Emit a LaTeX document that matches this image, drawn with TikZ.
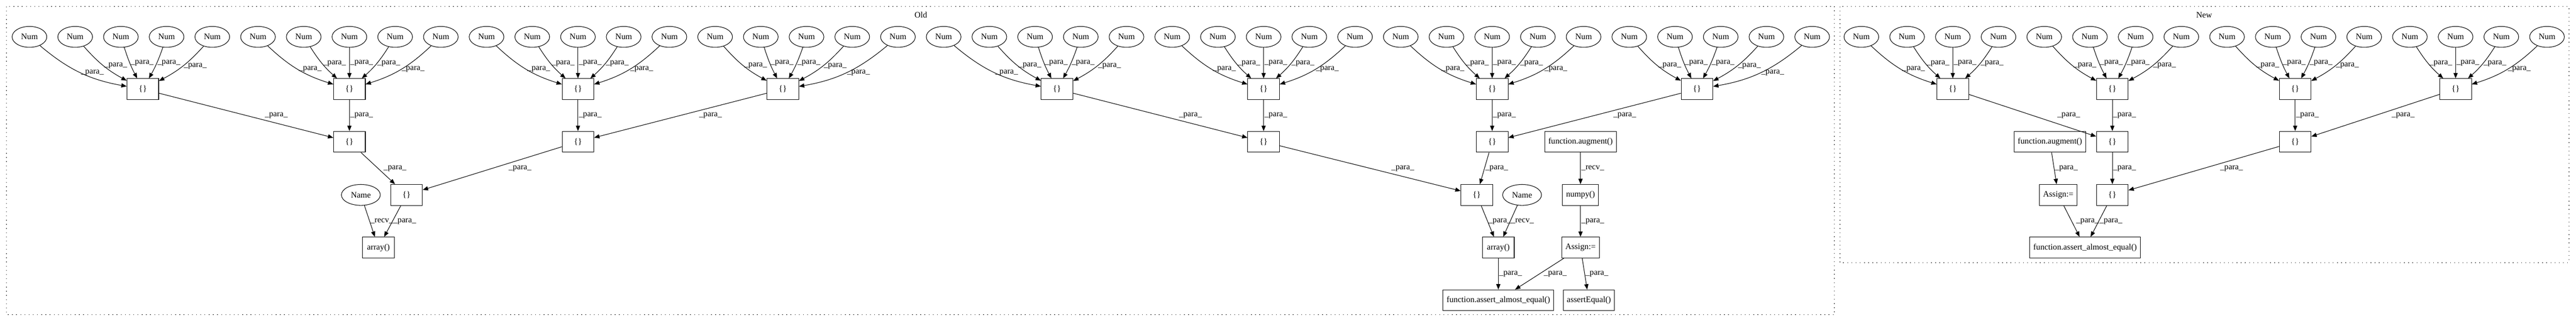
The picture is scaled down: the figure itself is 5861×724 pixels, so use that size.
\documentclass[tikz,border=0pt]{standalone}
\usepackage{fontspec}
\setmainfont{Liberation Serif}
\usetikzlibrary{arrows.meta,%
                shapes}

\begin{document}
\begin{tikzpicture}[x=0.735pt,y=-0.735pt,font=\fontsize{14}{16}\selectfont,
  num/.style={draw,ellipse,line width=0.9pt,minimum width=58pt,minimum height=35pt,inner sep=0pt},
  blk/.style={draw,rectangle,line width=0.9pt,minimum width=53pt,minimum height=35pt,inner xsep=6pt,inner ysep=0pt},
  para/.style={-{Triangle[length=9pt,width=7pt]},line width=0.9pt},
  lbl/.style={inner sep=1pt,anchor=west},
  clu/.style={line width=1pt,dash pattern=on 1.2pt off 5.8pt}]
\useasboundingbox (0,0) rectangle (5861,724);

\draw[clu] (15,15) rectangle (4174,717);
\node (old) at (2095,34) {Old};
\draw[clu] (4186,15) rectangle (5845,598);
\node (new) at (5015,34) {New};

\node[num] (a1) at (67,84) {Num};
\node[num] (a2) at (171,84) {Num};
\node[num] (a3) at (275,84) {Num};
\node[num] (a4) at (379,84) {Num};
\node[num] (a5) at (483,84) {Num};
\node[num] (a6) at (587,84) {Num};
\node[num] (a7) at (691,84) {Num};
\node[num] (a8) at (795,84) {Num};
\node[num] (a9) at (899,84) {Num};
\node[num] (a10) at (1003,84) {Num};
\node[num] (a11) at (1107,84) {Num};
\node[num] (a12) at (1211,84) {Num};
\node[num] (a13) at (1315,84) {Num};
\node[num] (a14) at (1419,84) {Num};
\node[num] (a15) at (1523,84) {Num};
\node[num] (a16) at (1627,84) {Num};
\node[num] (a17) at (1731,84) {Num};
\node[num] (a18) at (1835,84) {Num};
\node[num] (a19) at (1939,84) {Num};
\node[num] (a20) at (2043,84) {Num};
\node[num] (a21) at (2147,84) {Num};
\node[num] (a22) at (2251,84) {Num};
\node[num] (a23) at (2355,84) {Num};
\node[num] (a24) at (2459,84) {Num};
\node[num] (a25) at (2563,84) {Num};
\node[num] (a26) at (2667,84) {Num};
\node[num] (a27) at (2771,84) {Num};
\node[num] (a28) at (2875,84) {Num};
\node[num] (a29) at (2979,84) {Num};
\node[num] (a30) at (3083,84) {Num};
\node[num] (a31) at (3187,84) {Num};
\node[num] (a32) at (3291,84) {Num};
\node[num] (a33) at (3395,84) {Num};
\node[num] (a34) at (3499,84) {Num};
\node[num] (a35) at (3603,84) {Num};
\node[num] (a36) at (3707,84) {Num};
\node[num] (a37) at (3811,84) {Num};
\node[num] (a38) at (3915,84) {Num};
\node[num] (a39) at (4019,84) {Num};
\node[num] (a40) at (4123,84) {Num};

\node[blk] (ag1) at (325,203) {\{\}};
\node[blk] (ag2) at (795,203) {\{\}};
\node[blk] (ag3) at (1315,203) {\{\}};
\node[blk] (ag4) at (1781,203) {\{\}};
\node[blk] (ag5) at (2405,203) {\{\}};
\node[blk] (ag6) at (2875,203) {\{\}};
\node[blk] (ag7) at (3395,203) {\{\}};
\node[blk] (ag8) at (3861,203) {\{\}};

\node[blk] (ah1) at (795,323) {\{\}};
\node[blk] (ah2) at (1315,323) {\{\}};
\node[blk] (ah3) at (2875,323) {\{\}};
\node[blk] (ah4) at (3395,323) {\{\}};
\node[blk] (aaug) at (3596,323) {function.augment()};

\node[num,minimum width=65pt] (an1) at (821,444) {Name};
\node[blk] (ai1) at (925,444) {\{\}};
\node[blk] (ai2) at (3360,444) {\{\}};
\node[num,minimum width=65pt] (an2) at (3463,444) {Name};
\node[blk] (anp) at (3596,444) {numpy()};

\node[blk] (ar1) at (861,564) {array()};
\node[blk] (ar2) at (3409,564) {array()};
\node[blk] (aas) at (3596,564) {Assign:=};

\node[blk] (aae) at (3409,684) {function.assert\_almost\_equal()};
\node[blk] (aeq) at (3615,684) {assertEqual()};

\draw[para] (a1) to[bend right=15] node[lbl]{\_para\_} (ag1);
\draw[para] (a2) to[bend right=10] node[lbl]{\_para\_} (ag1);
\draw[para] (a3) to[bend right=5] node[lbl]{\_para\_} (ag1);
\draw[para] (a4) to[bend left=5] node[lbl]{\_para\_} (ag1);
\draw[para] (a5) to[bend left=10] node[lbl]{\_para\_} (ag1);
\draw[para] (a6) to[bend right=13] node[lbl]{\_para\_} (ag2);
\draw[para] (a7) to[bend right=8] node[lbl]{\_para\_} (ag2);
\draw[para] (a8) -- node[lbl]{\_para\_} (ag2);
\draw[para] (a9) to[bend left=8] node[lbl]{\_para\_} (ag2);
\draw[para] (a10) to[bend left=13] node[lbl]{\_para\_} (ag2);
\draw[para] (a11) to[bend right=13] node[lbl]{\_para\_} (ag3);
\draw[para] (a12) to[bend right=8] node[lbl]{\_para\_} (ag3);
\draw[para] (a13) -- node[lbl]{\_para\_} (ag3);
\draw[para] (a14) to[bend left=8] node[lbl]{\_para\_} (ag3);
\draw[para] (a15) to[bend left=13] node[lbl]{\_para\_} (ag3);
\draw[para] (a16) to[bend right=10] node[lbl]{\_para\_} (ag4);
\draw[para] (a17) to[bend right=5] node[lbl]{\_para\_} (ag4);
\draw[para] (a18) to[bend left=5] node[lbl]{\_para\_} (ag4);
\draw[para] (a19) to[bend left=10] node[lbl]{\_para\_} (ag4);
\draw[para] (a20) to[bend left=15] node[lbl]{\_para\_} (ag4);
\draw[para] (a21) to[bend right=15] node[lbl]{\_para\_} (ag5);
\draw[para] (a22) to[bend right=10] node[lbl]{\_para\_} (ag5);
\draw[para] (a23) to[bend right=5] node[lbl]{\_para\_} (ag5);
\draw[para] (a24) to[bend left=5] node[lbl]{\_para\_} (ag5);
\draw[para] (a25) to[bend left=10] node[lbl]{\_para\_} (ag5);
\draw[para] (a26) to[bend right=13] node[lbl]{\_para\_} (ag6);
\draw[para] (a27) to[bend right=8] node[lbl]{\_para\_} (ag6);
\draw[para] (a28) -- node[lbl]{\_para\_} (ag6);
\draw[para] (a29) to[bend left=8] node[lbl]{\_para\_} (ag6);
\draw[para] (a30) to[bend left=13] node[lbl]{\_para\_} (ag6);
\draw[para] (a31) to[bend right=13] node[lbl]{\_para\_} (ag7);
\draw[para] (a32) to[bend right=8] node[lbl]{\_para\_} (ag7);
\draw[para] (a33) -- node[lbl]{\_para\_} (ag7);
\draw[para] (a34) to[bend left=8] node[lbl]{\_para\_} (ag7);
\draw[para] (a35) to[bend left=13] node[lbl]{\_para\_} (ag7);
\draw[para] (a36) to[bend right=10] node[lbl]{\_para\_} (ag8);
\draw[para] (a37) to[bend right=5] node[lbl]{\_para\_} (ag8);
\draw[para] (a38) to[bend left=5] node[lbl]{\_para\_} (ag8);
\draw[para] (a39) to[bend left=10] node[lbl]{\_para\_} (ag8);
\draw[para] (a40) to[bend left=15] node[lbl]{\_para\_} (ag8);

\draw[para] (ag1) -- node[lbl,right=30pt]{\_para\_} (ah1);
\draw[para] (ag2) -- node[lbl]{\_para\_} (ah1);
\draw[para] (ag3) -- node[lbl]{\_para\_} (ah2);
\draw[para] (ag4) -- node[lbl,right=30pt]{\_para\_} (ah2);
\draw[para] (ag5) -- node[lbl,right=30pt]{\_para\_} (ah3);
\draw[para] (ag6) -- node[lbl]{\_para\_} (ah3);
\draw[para] (ag7) -- node[lbl]{\_para\_} (ah4);
\draw[para] (ag8) -- node[lbl,right=30pt]{\_para\_} (ah4);

\draw[para] (ah1) -- node[lbl,right=8pt]{\_para\_} (ai1);
\draw[para] (ah2) -- node[lbl,right=26pt]{\_para\_} (ai1);
\draw[para] (ah3) -- node[lbl,right=34pt]{\_para\_} (ai2);
\draw[para] (ah4) -- node[lbl]{\_para\_} (ai2);
\draw[para] (aaug) -- node[lbl]{\_recv\_} (anp);

\draw[para] (an1) -- node[lbl]{\_recv\_} (ar1);
\draw[para] (ai1) -- node[lbl]{\_para\_} (ar1);
\draw[para] (ai2) -- node[lbl]{\_para\_} (ar2);
\draw[para] (an2) -- node[lbl]{\_recv\_} (ar2);
\draw[para] (anp) -- node[lbl]{\_para\_} (aas);

\draw[para] (ar2) -- node[lbl]{\_para\_} (aae);
\draw[para] (aas) -- node[lbl,right=6pt]{\_para\_} (aae);
\draw[para] (aas) -- node[lbl]{\_para\_} (aeq);

\node[num] (b1) at (4235,84) {Num};
\node[num] (b2) at (4339,84) {Num};
\node[num] (b3) at (4443,84) {Num};
\node[num] (b4) at (4547,84) {Num};
\node[num] (b5) at (4651,84) {Num};
\node[num] (b6) at (4755,84) {Num};
\node[num] (b7) at (4859,84) {Num};
\node[num] (b8) at (4963,84) {Num};
\node[num] (b9) at (5067,84) {Num};
\node[num] (b10) at (5171,84) {Num};
\node[num] (b11) at (5275,84) {Num};
\node[num] (b12) at (5379,84) {Num};
\node[num] (b13) at (5483,84) {Num};
\node[num] (b14) at (5587,84) {Num};
\node[num] (b15) at (5691,84) {Num};
\node[num] (b16) at (5795,84) {Num};

\node[blk] (bg1) at (4443,203) {\{\}};
\node[blk] (bg2) at (4806,203) {\{\}};
\node[blk] (bg3) at (5222,203) {\{\}};
\node[blk] (bg4) at (5587,203) {\{\}};

\node[blk] (baug) at (4664,323) {function.augment()};
\node[blk] (bh1) at (4806,323) {\{\}};
\node[blk] (bh2) at (5222,323) {\{\}};

\node[blk] (bas) at (4683,444) {Assign:=};
\node[blk] (bi1) at (4806,444) {\{\}};

\node[blk] (bae) at (4744,564) {function.assert\_almost\_equal()};

\draw[para] (b1) to[bend right=13] node[lbl]{\_para\_} (bg1);
\draw[para] (b2) to[bend right=8] node[lbl]{\_para\_} (bg1);
\draw[para] (b3) -- node[lbl]{\_para\_} (bg1);
\draw[para] (b4) to[bend left=8] node[lbl]{\_para\_} (bg1);
\draw[para] (b5) to[bend right=10] node[lbl]{\_para\_} (bg2);
\draw[para] (b6) to[bend right=5] node[lbl]{\_para\_} (bg2);
\draw[para] (b7) to[bend left=5] node[lbl]{\_para\_} (bg2);
\draw[para] (b8) to[bend left=10] node[lbl]{\_para\_} (bg2);
\draw[para] (b9) to[bend right=10] node[lbl]{\_para\_} (bg3);
\draw[para] (b10) to[bend right=5] node[lbl]{\_para\_} (bg3);
\draw[para] (b11) to[bend left=5] node[lbl]{\_para\_} (bg3);
\draw[para] (b12) to[bend left=10] node[lbl]{\_para\_} (bg3);
\draw[para] (b13) to[bend right=8] node[lbl]{\_para\_} (bg4);
\draw[para] (b14) -- node[lbl]{\_para\_} (bg4);
\draw[para] (b15) to[bend left=8] node[lbl]{\_para\_} (bg4);
\draw[para] (b16) to[bend left=13] node[lbl]{\_para\_} (bg4);

\draw[para] (bg1) -- node[lbl,right=40pt]{\_para\_} (bh1);
\draw[para] (bg2) -- node[lbl]{\_para\_} (bh1);
\draw[para] (bg3) -- node[lbl]{\_para\_} (bh2);
\draw[para] (bg4) -- node[lbl,right=26pt]{\_para\_} (bh2);

\draw[para] (baug) -- node[lbl]{\_para\_} (bas);
\draw[para] (bh1) -- node[lbl]{\_para\_} (bi1);
\draw[para] (bh2) -- node[lbl,right=26pt]{\_para\_} (bi1);

\draw[para] (bas) -- node[lbl,right=6pt]{\_para\_} (bae);
\draw[para] (bi1) -- node[lbl]{\_para\_} (bae);

\end{tikzpicture}
\end{document}
